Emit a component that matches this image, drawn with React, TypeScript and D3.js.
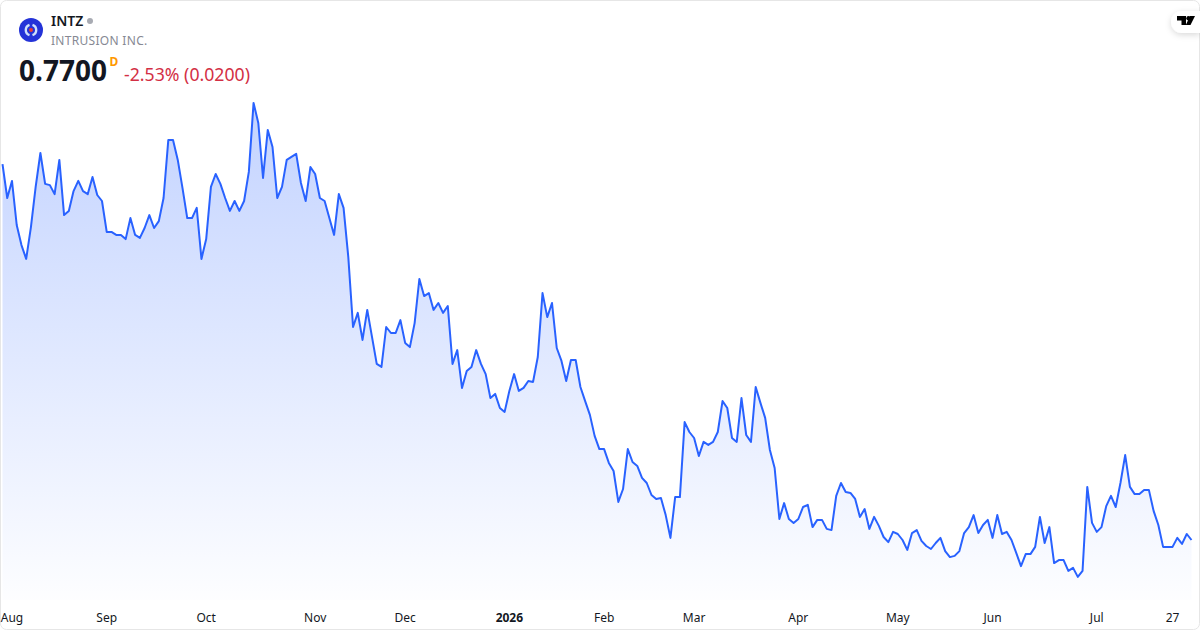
import React, { useEffect, useRef } from "react";
import * as d3 from "d3";

const closes: number[] = [
  2.023,1.91,1.967,1.82,1.753,1.707,1.813,1.947,2.06,1.957,1.953,1.923,2.037,1.853,1.867,1.933,1.967,1.933,1.923,1.98,
  1.92,1.9,1.797,1.797,1.787,1.787,1.773,1.843,1.787,1.777,1.81,1.853,1.81,1.833,1.91,2.103,2.103,2.037,1.943,1.843,
  1.843,1.877,1.707,1.773,1.947,1.99,1.957,1.91,1.867,1.9,1.867,1.9,1.997,2.227,2.16,1.977,2.137,2.08,1.91,1.947,
  2.037,2.047,2.057,1.96,1.9,2.013,1.99,1.91,1.9,1.843,1.787,1.923,1.877,1.713,1.48,1.527,1.437,1.537,1.447,1.357,
  1.347,1.48,1.46,1.46,1.503,1.427,1.413,1.493,1.64,1.583,1.593,1.537,1.56,1.527,1.55,1.357,1.403,1.277,1.333,1.347,
  1.403,1.357,1.323,1.243,1.257,1.21,1.197,1.267,1.323,1.267,1.277,1.3,1.297,1.38,1.593,1.513,1.56,1.41,1.367,1.3,
  1.37,1.37,1.28,1.233,1.187,1.117,1.073,1.073,1.027,1.0,0.897,0.94,1.073,1.03,1.017,0.977,0.96,0.92,0.907,0.91,
  0.853,0.777,0.913,0.913,1.163,1.13,1.11,1.05,1.097,1.087,1.097,1.13,1.233,1.21,1.11,1.097,1.243,1.12,1.097,1.28,
  1.227,1.177,1.07,1.01,0.84,0.893,0.84,0.827,0.84,0.88,0.887,0.813,0.837,0.837,0.807,0.803,0.917,0.96,0.93,0.927,
  0.907,0.847,0.873,0.807,0.847,0.817,0.78,0.763,0.797,0.79,0.77,0.737,0.793,0.803,0.767,0.75,0.74,0.76,0.777,0.733,
  0.713,0.717,0.733,0.793,0.813,0.853,0.793,0.82,0.837,0.777,0.853,0.79,0.797,0.77,0.727,0.683,0.723,0.723,0.747,0.847,
  0.76,0.813,0.693,0.703,0.703,0.667,0.677,0.647,0.667,0.947,0.827,0.797,0.813,0.883,0.917,0.88,0.96,1.053,0.947,0.923,
  0.923,0.937,0.937,0.867,0.82,0.747,0.747,0.747,0.777,0.757,0.79,0.77,
];
const tickLabels: string[] = ["Aug","Sep","Oct","Nov","Dec","2026","Feb","Mar","Apr","May","Jun","Jul","27"];
const tickIndexes: number[] = [2,22,43,66,85,107,127,146,168,189,209,231,247];
const boldTicks: string[] = ["2026"];

const ticker = "INTZ";
const company = "INTRUSION INC.";
const lastPrice = "0.7700";
const change = "-2.53% (0.0200)";
const font = "'Noto Sans', sans-serif";

export default function App() {
  const axisRef = useRef<SVGGElement>(null);
  const x = d3.scaleLinear().domain([0, closes.length - 1]).range([2.5, 1191.5]);
  const y = d3.scaleLinear().domain([0.57, 2.57]).range([600, 0]);
  const linePath = d3.line<number>().x((_, i) => x(i)).y((d) => y(d))(closes) ?? "";
  const areaPath = d3.area<number>().x((_, i) => x(i)).y0(600).y1((d) => y(d))(closes) ?? "";

  useEffect(() => {
    if (!axisRef.current) return;
    const axis = d3
      .axisBottom(x)
      .tickValues(tickIndexes)
      .tickSize(0)
      .tickPadding(0)
      .tickFormat((_, i) => tickLabels[i]);
    const g = d3.select(axisRef.current);
    g.call(axis as any);
    g.select(".domain").remove();
    g.selectAll("text")
      .attr("y", 0)
      .attr("dy", "0")
      .attr("font-family", font)
      .attr("font-size", 12)
      .attr("fill", "#131722")
      .attr("font-weight", (_, i) => (boldTicks.includes(tickLabels[i]) ? 700 : 400));
  }, []);

  return (
    <svg
      width={1200}
      height={630}
      style={{ position: "fixed", left: 0, top: 0, background: "#fff", display: "block" }}
      fontFamily={font}
    >
      <defs>
        <linearGradient id="fill" gradientUnits="userSpaceOnUse" x1="0" y1="102" x2="0" y2="600">
          <stop offset="0" stopColor="#2962ff" stopOpacity={0.28} />
          <stop offset="1" stopColor="#2962ff" stopOpacity={0.01} />
        </linearGradient>
        <filter id="pill" x="-50%" y="-50%" width="200%" height="200%">
          <feDropShadow dx="0" dy="2" stdDeviation="3" floodColor="#000" floodOpacity={0.15} />
        </filter>
      </defs>
      <rect x={0.5} y={0.5} width={1199} height={629} rx={6} fill="#fff" stroke="#e6e6e6" />
      <path d={areaPath} fill="url(#fill)" />
      <path d={linePath} fill="none" stroke="#2962ff" strokeWidth={2} strokeLinejoin="round" />
      <g ref={axisRef} transform="translate(-0.5,621.5)" />

      <circle cx={31} cy={30} r={12} fill="#2433d8" />
      <path d="M29.5 24.8 A5.5 5.5 0 0 0 29.5 35.2 M32.5 24.8 A5.5 5.5 0 0 1 32.5 35.2" fill="none" stroke="#cfe0fb" strokeWidth={2.4} />
      <circle cx={31} cy={30} r={2} fill="#ee3b32" />

      <text x={51} y={26} fontSize={14} fontWeight={600} fill="#131722">{ticker}</text>
      <circle cx={90} cy={21} r={3} fill="#a8abb3" />
      <text x={51} y={45} fontSize={12} letterSpacing={0.3} fill="#868993">{company}</text>
      <text x={19} y={81} fontSize={28} fontWeight={700} fill="#131722">{lastPrice}</text>
      <text x={109.5} y={66} fontSize={12} fontWeight={700} fill="#ff9800">D</text>
      <text x={124} y={81} fontSize={17.7} fill="#d32f45">{change}</text>

      <path d="M1200 11 H1182 A11 11 0 0 0 1182 33 H1200 Z" fill="#fff" filter="url(#pill)" />
      <path d="M1177 16 H1186 V25 H1181.5 V20.5 H1177 Z" fill="#000" />
      <circle cx={1188.5} cy={18.2} r={2.2} fill="#000" />
      <path d="M1190 16 H1195 L1190.5 25 H1185.8 Z" fill="#000" />
    </svg>
  );
}
